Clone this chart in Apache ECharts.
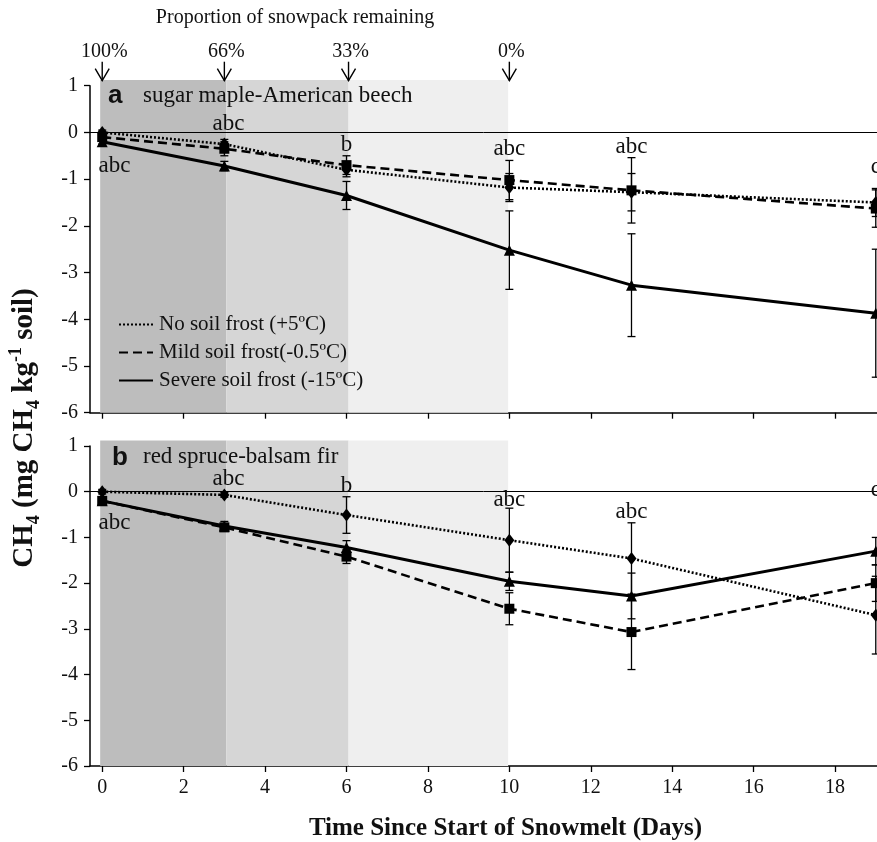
<!DOCTYPE html>
<html><head><meta charset="utf-8">
<script src="https://cdn.jsdelivr.net/npm/echarts@6/dist/echarts.min.js"></script>
<style>html,body{margin:0;padding:0;background:#fff}#c{width:877px;height:842px}</style>
</head><body><div id="c"></div>
<script>
// ---------- data ----------
const days = [0, 3, 6, 10, 13, 19];
const xTicks = [0, 2, 4, 6, 8, 10, 12, 14, 16, 18];
const legendNames = ['No soil frost (+5ºC)', 'Mild soil frost(-0.5ºC)', 'Severe soil frost (-15ºC)'];

// Panel a: sugar maple-American beech
const aNoFrost    = [0.00, -0.25, -0.80, -1.18, -1.28, -1.50];
const aNoFrostErr = [0.05, 0.10, 0.15, 0.30, 0.40, 0.30];
const aMild       = [-0.10, -0.35, -0.70, -1.02, -1.24, -1.63];
const aMildErr    = [0.05, 0.15, 0.20, 0.42, 0.70, 0.40];
const aSevere     = [-0.20, -0.72, -1.35, -2.52, -3.27, -3.87];
const aSevereErr  = [0.05, 0.10, 0.30, 0.84, 1.10, 1.37];

// Panel b: red spruce-balsam fir
const bNoFrost    = [0.00, -0.07, -0.51, -1.06, -1.46, -2.70];
const bNoFrostErr = [0.05, 0.05, 0.40, 0.70, 0.78, 0.85];
const bMild       = [-0.20, -0.78, -1.42, -2.56, -3.07, -2.00];
const bMildErr    = [0.05, 0.08, 0.15, 0.35, 0.82, 0.40];
const bSevere     = [-0.20, -0.75, -1.22, -1.96, -2.28, -1.30];
const bSevereErr  = [0.05, 0.10, 0.15, 0.20, 0.50, 0.30];

// significance letters
const letterX  = [0.3, 3.1, 6, 10, 13, 19];
const aLetters = ['abc', 'abc', 'b', 'abc', 'abc', 'c'];
const aLetterY = [-0.72, 0.19, -0.27, -0.36, -0.32, -0.75];
const bLetters = ['abc', 'abc', 'b', 'abc', 'abc', 'c'];
const bLetterY = [-0.69, 0.27, 0.13, -0.19, -0.44, 0.04];

// snowpack
const snowDays   = [0, 3, 6.05, 10];
const snowLabels = ['100%', '66%', '33%', '0%'];
const shadeStart = [-0.05, 3.05, 6.05];
const shadeEnd   = [3.05, 6.05, 9.97];
const shadeTop = 1.12, shadeBottom = -6;
const shadeColors = ['#bdbdbd', '#d6d6d6', '#efefef'];

// ---------- chart ----------
const SERIF = 'Liberation Serif';
const chart = echarts.init(document.getElementById('c'), null, {renderer: 'canvas'});

const styles = [
  {symbol: 'diamond', symbolSize: [10, 13], lineStyle: {type: [2, 2], width: 2.6, color: '#000'}},
  {symbol: 'rect', symbolSize: 10, lineStyle: {type: [9, 5], width: 2.6, color: '#000'}},
  {symbol: 'triangle', symbolSize: 11, lineStyle: {type: 'solid', width: 3, color: '#000'}}
];

function lineSeries(name, gi, vals, si, withZero) {
  const s = {
    name: name, type: 'line', xAxisIndex: gi, yAxisIndex: gi, z: 3,
    data: days.map((d, i) => [d, vals[i]]),
    symbol: styles[si].symbol, symbolSize: styles[si].symbolSize,
    itemStyle: {color: '#000'}, lineStyle: styles[si].lineStyle,
    emphasis: {disabled: true}, animation: false, clip: false
  };
  if (withZero) {
    s.markLine = {silent: true, symbol: 'none', label: {show: false},
      lineStyle: {color: '#000', width: 1, type: 'solid'}, data: [{yAxis: 0}], animation: false};
  }
  return s;
}

function errSeries(gi, vals, errs) {
  return {
    type: 'custom', xAxisIndex: gi, yAxisIndex: gi, z: 4, clip: false, animation: false, silent: true,
    data: days.map((d, i) => [d, vals[i], errs[i]]),
    renderItem: (params, api) => {
      const x = api.value(0), y = api.value(1), e = api.value(2);
      const t = api.coord([x, y + e]), b = api.coord([x, y - e]);
      const w = 4, st = {stroke: '#000', lineWidth: 1.3};
      return {type: 'group', children: [
        {type: 'line', shape: {x1: t[0], y1: t[1], x2: b[0], y2: b[1]}, style: st},
        {type: 'line', shape: {x1: t[0] - w, y1: t[1], x2: t[0] + w, y2: t[1]}, style: st},
        {type: 'line', shape: {x1: b[0] - w, y1: b[1], x2: b[0] + w, y2: b[1]}, style: st}
      ]};
    }
  };
}

function shadeSeries(gi) {
  return {
    type: 'custom', xAxisIndex: gi, yAxisIndex: gi, z: 1, clip: false, animation: false, silent: true,
    data: shadeStart.map((s, i) => [s, shadeEnd[i], i]),
    renderItem: (params, api) => {
      const p0 = api.coord([api.value(0), shadeTop]);
      const p1 = api.coord([api.value(1), shadeBottom]);
      return {type: 'rect', shape: {x: p0[0], y: p0[1], width: p1[0] - p0[0], height: p1[1] - p0[1]},
        style: {fill: shadeColors[api.value(2)]}};
    }
  };
}

function letterSeries(gi, letters, ys) {
  return {
    type: 'custom', xAxisIndex: gi, yAxisIndex: gi, z: 5, clip: false, animation: false, silent: true,
    data: letterX.map((x, i) => [x, ys[i]]),
    renderItem: (params, api) => {
      const p = api.coord([api.value(0), api.value(1)]);
      return {type: 'text', x: p[0], y: p[1], style: {text: letters[params.dataIndex],
        fontFamily: SERIF, fontSize: 23, fill: '#111', align: 'center', verticalAlign: 'middle'}};
    }
  };
}

const arrowSeries = {
  type: 'custom', xAxisIndex: 0, yAxisIndex: 0, z: 5, clip: false, animation: false, silent: true,
  data: snowDays.map(d => [d, 1]),
  renderItem: (params, api) => {
    const p = api.coord([api.value(0), api.value(1)]);
    const st = {stroke: '#000', lineWidth: 1.4, fill: null};
    return {type: 'group', children: [
      {type: 'line', shape: {x1: p[0], y1: p[1] - 24, x2: p[0], y2: p[1] - 5}, style: st},
      {type: 'polyline', shape: {points: [[p[0] - 7, p[1] - 17], [p[0], p[1] - 5], [p[0] + 7, p[1] - 17]]}, style: st},
      {type: 'text', x: p[0] + 2, y: p[1] - 34, style: {text: snowLabels[params.dataIndex],
        fontFamily: SERIF, fontSize: 20, fill: '#111', align: 'center', verticalAlign: 'middle'}}
    ]};
  }
};

const legendSeries = legendNames.map((n, i) => ({
  name: n, type: 'line', xAxisIndex: 0, yAxisIndex: 0, data: [], symbol: 'none',
  lineStyle: styles[i].lineStyle, itemStyle: {color: '#000'}
}));

function xAxis(gi, showLabels) {
  const ax = {
    type: 'value', gridIndex: gi, min: -0.3, max: 19.03,
    axisLine: {show: true, onZero: false, lineStyle: {color: '#000', width: 1.5}},
    axisTick: {show: true, length: 6, customValues: xTicks, lineStyle: {color: '#000', width: 1.3}},
    axisLabel: {show: showLabels, customValues: xTicks, fontFamily: SERIF, fontSize: 20, color: '#111', margin: 12},
    splitLine: {show: false}
  };
  if (showLabels) {
    ax.name = 'Time Since Start of Snowmelt (Days)';
    ax.nameLocation = 'middle';
    ax.nameGap = 50;
    ax.nameTextStyle = {fontFamily: SERIF, fontWeight: 'bold', fontSize: 25, color: '#111', padding: [0, 0, 0, 44]};
  }
  return ax;
}
function yAxis(gi) {
  return {
    type: 'value', gridIndex: gi, min: -6, max: 1, interval: 1,
    axisLine: {show: true, onZero: false, lineStyle: {color: '#000', width: 1.5}},
    axisTick: {show: true, length: 6, lineStyle: {color: '#000', width: 1.3}},
    axisLabel: {fontFamily: SERIF, fontSize: 20, color: '#111', margin: 12},
    splitLine: {show: false}
  };
}

const option = {
  backgroundColor: '#fff',
  animation: false,
  grid: [
    {left: 90, right: 0, top: 85.7, height: 327},
    {left: 90, right: 0, top: 446, height: 326.7}
  ],
  xAxis: [xAxis(0, false), xAxis(1, true)],
  yAxis: [yAxis(0), yAxis(1)],
  legend: {
    orient: 'vertical', left: 113, top: 309, itemWidth: 34, itemHeight: 14, itemGap: 7,
    selectedMode: false, data: legendNames, z: 6,
    itemStyle: {opacity: 0},
    textStyle: {fontFamily: SERIF, fontSize: 21, color: '#111', lineHeight: 21, padding: [0, 0, 0, 1]}
  },
  graphic: [
    {type: 'text', z: 100, x: 295, y: 18, style: {text: 'Proportion of snowpack remaining', fontFamily: SERIF, fontSize: 20, fill: '#111', align: 'center', verticalAlign: 'middle'}},
    {type: 'text', z: 100, x: 108, y: 96, style: {text: 'a', fontFamily: 'Liberation Sans', fontWeight: 'bold', fontSize: 26, fill: '#111', align: 'left', verticalAlign: 'middle'}},
    {type: 'text', z: 100, x: 143, y: 96, style: {text: 'sugar maple-American beech', fontFamily: SERIF, fontSize: 23, fill: '#111', align: 'left', verticalAlign: 'middle'}},
    {type: 'text', z: 100, x: 112, y: 458, style: {text: 'b', fontFamily: 'Liberation Sans', fontWeight: 'bold', fontSize: 26, fill: '#111', align: 'left', verticalAlign: 'middle'}},
    {type: 'text', z: 100, x: 143, y: 457, style: {text: 'red spruce-balsam fir', fontFamily: SERIF, fontSize: 23, fill: '#111', align: 'left', verticalAlign: 'middle'}},
    {type: 'text', z: 100, x: 25, y: 428, rotation: Math.PI / 2, style: {
      text: '{m|CH}{s|4}{m| (mg CH}{s|4}{m| kg}{p|-1}{m| soil)}',
      align: 'center', verticalAlign: 'middle', fill: '#111',
      rich: {
        m: {fontFamily: SERIF, fontWeight: 'bold', fontSize: 29, lineHeight: 36, verticalAlign: 'middle', fill: '#111'},
        s: {fontFamily: SERIF, fontWeight: 'bold', fontSize: 18, lineHeight: 36, verticalAlign: 'bottom', fill: '#111'},
        p: {fontFamily: SERIF, fontWeight: 'bold', fontSize: 18, lineHeight: 36, verticalAlign: 'top', fill: '#111'}
      }}}
  ],
  series: [
    shadeSeries(0), shadeSeries(1),
    lineSeries('a-none', 0, aNoFrost, 0, true),
    lineSeries('a-mild', 0, aMild, 1, false),
    lineSeries('a-severe', 0, aSevere, 2, false),
    lineSeries('b-none', 1, bNoFrost, 0, true),
    lineSeries('b-mild', 1, bMild, 1, false),
    lineSeries('b-severe', 1, bSevere, 2, false),
    errSeries(0, aNoFrost, aNoFrostErr), errSeries(0, aMild, aMildErr), errSeries(0, aSevere, aSevereErr),
    errSeries(1, bNoFrost, bNoFrostErr), errSeries(1, bMild, bMildErr), errSeries(1, bSevere, bSevereErr),
    letterSeries(0, aLetters, aLetterY), letterSeries(1, bLetters, bLetterY),
    arrowSeries
  ].concat(legendSeries)
};
chart.setOption(option);
</script>
</body></html>
